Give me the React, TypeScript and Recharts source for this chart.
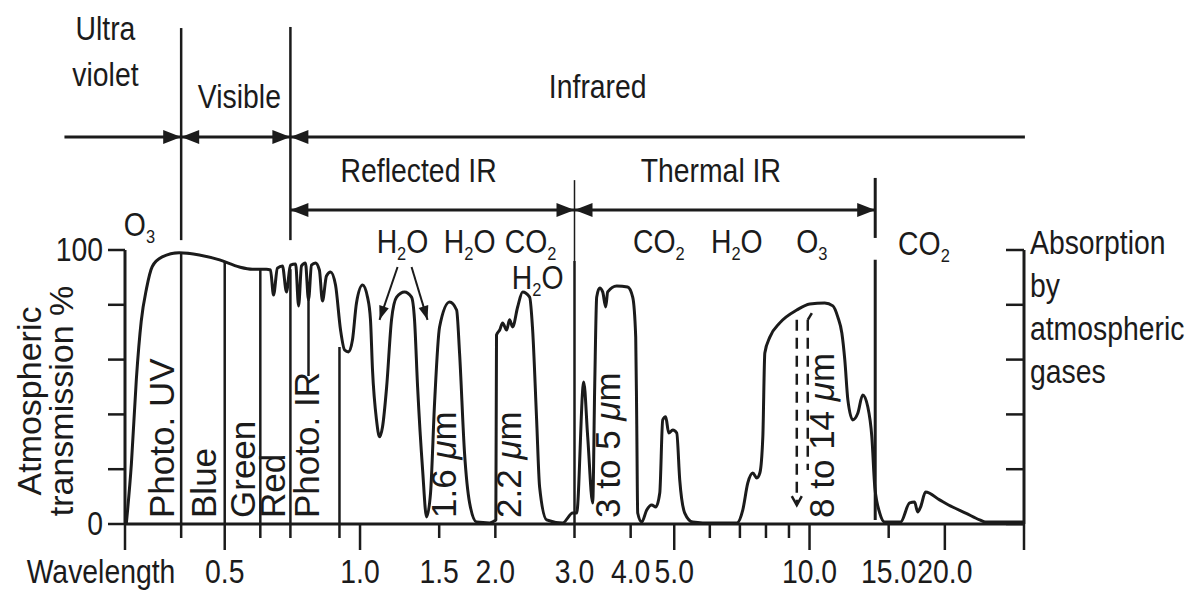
import React from 'react';
import { LineChart, Line, XAxis, YAxis, ReferenceLine, ReferenceDot } from 'recharts';

const INK = '#1b1b1b';
const FONT = "'Liberation Sans', Arial, sans-serif";
const FS = 33;
const NARROW = 0.86; // horizontal labels use a condensed face
const FS_VERT = 35; // vertical labels are set wider

// atmospheric transmission curve (wavelength in µm, transmission in %)
const wavelength = [
  0.302, 0.31, 0.318, 0.326, 0.335, 0.345, 0.363, 0.396, 0.439, 0.487, 0.539, 0.576, 0.619,
  0.632, 0.642, 0.655, 0.672, 0.686, 0.7, 0.719, 0.73, 0.741, 0.756, 0.768, 0.78, 0.796, 0.812,
  0.825, 0.842, 0.86, 0.882, 0.905, 0.924, 0.943, 0.962, 0.982, 1.013, 1.039, 1.055, 1.066,
  1.088, 1.105, 1.122, 1.146, 1.175, 1.206, 1.256, 1.302, 1.322, 1.343, 1.378, 1.406, 1.435,
  1.465, 1.503, 1.582, 1.64, 1.665, 1.708, 1.753, 1.817, 1.942, 1.985, 2.005, 2.012, 2.045,
  2.076, 2.119, 2.151, 2.185, 2.242, 2.3, 2.384, 2.421, 2.471, 2.509, 2.601, 2.824, 2.972,
  3.033, 3.145, 3.21, 3.293, 3.327, 3.361, 3.413, 3.466, 3.52, 3.556, 3.724, 3.939, 4.042,
  4.105, 4.126, 4.147, 4.233, 4.343, 4.457, 4.549, 4.643, 4.714, 4.786, 4.862, 4.963, 5.065,
  5.143, 5.277, 5.498, 5.786, 6.889, 7.103, 7.289, 7.478, 7.633, 7.752, 7.872, 7.953, 8.16,
  8.587, 9.368, 10.01, 10.81, 11.27, 11.56, 11.8, 11.98, 12.17, 12.48, 12.81, 13.13, 13.48,
  13.76, 13.97, 14.33, 14.71, 15.94, 16.7, 17.13, 17.4, 17.66, 18.12, 19.47, 20.81, 22.25,
  23.9, 24.65, 30,
];
const transmission = [
  0, 22, 53, 74, 86, 94, 97.5, 99, 98.2, 96.4, 93.8, 93, 93,
  92.7, 83.6, 93.4, 94.2, 84.7, 94.5, 94.9, 79.6, 94.2, 95.3, 81.8, 94.5, 95.3, 92.7,
  81.4, 90.5, 92, 87.2, 70.8, 63.5, 62.8, 67.2, 80.7, 87.2, 82.8, 74.5, 56.2,
  38, 31.8, 35.4, 50, 74.5, 82.8, 84.7, 82.8, 74.5, 50, 19.7, 2.6, 11.3,
  44.2, 71.9, 81, 78.1, 62.4, 25.9, 7.7, 0.7, 0.4, 1, 1.5, 69, 70.8,
  73.4, 70.8, 74.5, 71.9, 79.2, 84.7, 82.8, 70.8, 38, 13.5, 1.5, 0.4, 4,
  4, 51.8, 31.8, 7.7, 50, 82.8, 86.1, 84.7, 79.2, 84.7, 86.9, 86.5, 82.8,
  68.2, 38, 4, 0.7, 5.1, 6.9, 6.2, 11.3, 38, 39.1, 33.2, 34.3, 33.2,
  16.1, 4, 0.7, 0.4, 0.4, 5.1, 15, 18.6, 16.8, 18.6, 31.8, 62.4, 68.2,
  73.4, 78.1, 80.3, 80.7, 79.6, 75.5, 69.7, 59.9, 45.3, 38, 40.5, 47.1, 42.7,
  31.8, 13.5, 4, 0.7, 0.7, 7.7, 8, 4.4, 6.2, 11.7, 8.8, 6.2, 4,
  1.5, 0.7, 0.7,
];

// axes
const xTicks = [0.3, 0.4, 0.5, 0.6, 0.7, 0.9, 1, 1.5, 2, 3, 4, 5, 6, 7, 8, 9, 10, 15, 20, 30];
const xLabelled = [0.5, 1, 1.5, 2, 3, 4, 5, 10, 15, 20];
const xMajor = [0.3, 0.5, 1, 5, 10, 20, 30];
const yTicks = [0, 20, 40, 60, 80, 100];

// spectral regions above the plot
const regionNames = ['Ultra', 'violet', 'Visible', 'Infrared', 'Reflected IR', 'Thermal IR'];
const regionAt = [0.2714, 0.2714, 0.539, 3.379, 1.35, 6.03];
const regionLevel = [176.6, 159.9, 151.8, 155.5, 124.8, 124.8];

// windows / bands written vertically inside the plot
const bandNames = ['Photo. UV', 'Blue', 'Green', 'Red', 'Photo. IR', '1.6 μm', '2.2 μm', '3 to 5 μm', '8 to 14 μm'];
const bandAt = [0.3865, 0.4793, 0.5853, 0.6824, 0.8084, 1.632, 2.277, 3.781, 11.32];

// absorbing gases
const gasNames = ['O3', 'H2O', 'H2O', 'CO2', 'H2O', 'CO2', 'H2O', 'O3', 'CO2'];
const gasAt = [0.323, 1.243, 1.753, 2.396, 2.485, 4.62, 6.89, 10.12, 17.97];
const gasLevel = [105.1, 98.9, 98.9, 98.9, 85.6, 98.9, 98.9, 98.9, 98.2];

const absorptionNote = ['Absorption', 'by', 'atmospheric', 'gases'];

const data = wavelength.map((w, i) => ({ w, t: transmission[i] }));

function CText({ x, y, anchor = 'middle', vertical = false, size = FS, squeeze = NARROW, children }: any) {
  const rot = vertical ? ' rotate(-90)' : '';
  return (
    <g transform={`translate(${x} ${y})${rot} scale(${squeeze} 1)`}>
      <text x={0} y={0} textAnchor={anchor} fontFamily={FONT} fontSize={size} fill={INK}>
        {children}
      </text>
    </g>
  );
}

const formula = (s: string) => {
  const out: React.ReactNode[] = [];
  let low = false;
  s.split('').forEach((ch, i) => {
    const digit = /\d/.test(ch);
    if (digit && !low) {
      out.push(<tspan key={i} fontSize={FS * 0.58} dy={7}>{ch}</tspan>);
      low = true;
    } else if (!digit && low) {
      out.push(<tspan key={i} dy={-7}>{ch}</tspan>);
      low = false;
    } else {
      out.push(<tspan key={i}>{ch}</tspan>);
    }
  });
  return out;
};

const withMu = (s: string) => {
  const k = s.indexOf('μ');
  if (k < 0) return s;
  return [
    <tspan key="a">{s.slice(0, k)}</tspan>,
    <tspan key="b" fontStyle="italic">μ</tspan>,
    <tspan key="c">{s.slice(k + 1)}</tspan>,
  ];
};

const head = (tx: number, ty: number, ang: number, len: number, half: number) => {
  const bx = tx - len * Math.cos(ang);
  const by = ty - len * Math.sin(ang);
  const nx = -Math.sin(ang) * half;
  const ny = Math.cos(ang) * half;
  return `${tx},${ty} ${bx + nx},${by + ny} ${bx - nx},${by - ny}`;
};

const arrow = (ends: 'start' | 'end' | 'both', width = 3, len = 18, half = 7) => (p: any) => {
  const { x1, y1, x2, y2 } = p;
  const ang = Math.atan2(y2 - y1, x2 - x1);
  return (
    <g>
      <line x1={x1} y1={y1} x2={x2} y2={y2} stroke={INK} strokeWidth={width} />
      {ends !== 'start' && <polygon points={head(x2, y2, ang, len, half)} fill={INK} />}
      {ends !== 'end' && <polygon points={head(x1, y1, ang + Math.PI, len, half)} fill={INK} />}
    </g>
  );
};

const dashedArrow = (p: any) => {
  const { x1, y1, x2, y2 } = p;
  return (
    <g stroke={INK} strokeWidth={2.5} fill="none">
      <line x1={x1} y1={y1} x2={x2} y2={y2} strokeDasharray="11 7" />
      <polyline points={`${x2 - 5},${y2 - 9} ${x2},${y2} ${x2 + 5},${y2 - 9}`} />
    </g>
  );
};

function WaveTick(p: any) {
  const { x, y, payload } = p;
  const v = payload.value;
  const len = xMajor.includes(v) ? 26 : 14;
  return (
    <g>
      <line x1={x} y1={y} x2={x} y2={y + len} stroke={INK} strokeWidth={2.5} />
      {xLabelled.includes(v) && <CText x={x} y={y + 59}>{v.toFixed(1)}</CText>}
    </g>
  );
}

function PercentTick(p: any) {
  const v = p.payload.value;
  if (v !== 0 && v !== 100) return null;
  return <CText x={p.x} y={p.y + 11} anchor="end">{String(v)}</CText>;
}

const seg = (x1: number, y1: number, x2: number, y2: number, key: string, width = 2.5) => (
  <ReferenceLine
    key={key}
    segment={[{ x: x1, y: y1 }, { x: x2, y: y2 }]}
    stroke={INK}
    strokeWidth={width}
    ifOverflow="visible"
  />
);

export default function App() {
  return (
    <div style={{ position: 'absolute', left: 0, top: 0, background: '#fff' }}>
      <LineChart width={1204} height={593} data={data} margin={{ top: 0, right: 180, bottom: 0, left: 0 }}>
        <XAxis
          dataKey="w"
          type="number"
          scale="log"
          domain={[0.3, 30]}
          allowDataOverflow
          ticks={xTicks}
          interval={0}
          tick={<WaveTick />}
          tickLine={false}
          tickSize={0}
          tickMargin={0}
          axisLine={{ stroke: INK, strokeWidth: 3 }}
          height={69}
          label={(p: any) => (
            <CText x={p.viewBox.x - 24} y={p.viewBox.y + 59}>Wavelength</CText>
          )}
        />
        <YAxis
          type="number"
          domain={[0, 191.24]}
          allowDataOverflow
          ticks={yTicks}
          interval={0}
          width={125}
          axisLine={false}
          tickLine={{ stroke: INK, strokeWidth: 2.5 }}
          tickSize={17}
          tickMargin={5}
          tick={<PercentTick />}
          label={(p: any) => {
            const cy = p.viewBox.y + p.viewBox.height - 123;
            return (
              <g>
                <CText x={41} y={cy} vertical size={34} squeeze={1}>Atmospheric</CText>
                <CText x={73} y={cy} vertical size={34} squeeze={1}>transmission %</CText>
              </g>
            );
          }}
        />
        <YAxis
          yAxisId="r"
          orientation="right"
          mirror
          type="number"
          domain={[0, 191.24]}
          allowDataOverflow
          ticks={yTicks}
          interval={0}
          width={1}
          axisLine={false}
          tickLine={{ stroke: INK, strokeWidth: 2.5 }}
          tickSize={18}
          tickFormatter={() => ''}
        />

        {/* axis frames limited to 0-100 % */}
        {seg(0.3, 0, 0.3, 100, 'ax-l', 3)}
        {seg(30, 0, 30, 100, 'ax-r', 3)}

        {/* region boundaries */}
        {seg(0.4, 181, 0.4, 103.6, 'b1-top')}
        {seg(0.7, 181.4, 0.7, 103.6, 'b2-top')}
        {seg(3, 125.5, 3, 96, 'b3-top', 1.5)}
        {seg(14, 126.3, 14, 104.4, 'b4-top', 3)}
        {seg(0.4, 98.5, 0.4, 0, 'v1')}
        {seg(0.5, 96, 0.5, 0, 'v2')}
        {seg(0.6, 93, 0.6, 0, 'v3')}
        {seg(0.7, 93, 0.7, 0, 'v4')}
        {seg(0.9, 64.6, 0.9, 0, 'v5')}
        {seg(3, 96, 3, 0, 'v6')}
        {seg(14, 96.4, 14, 1.5, 'v7', 3)}
        {seg(0.768, 54, 0.768, 81.8, 'pir')}

        {/* region arrows */}
        <ReferenceLine segment={[{ x: 0.22, y: 141.2 }, { x: 0.4, y: 141.2 }]} shape={arrow('end')} ifOverflow="visible" />
        <ReferenceLine segment={[{ x: 0.4, y: 141.2 }, { x: 0.7, y: 141.2 }]} shape={arrow('both')} ifOverflow="visible" />
        <ReferenceLine segment={[{ x: 0.7, y: 141.2 }, { x: 30.14, y: 141.2 }]} shape={arrow('start')} ifOverflow="visible" />
        <ReferenceLine segment={[{ x: 0.7, y: 114.6 }, { x: 3, y: 114.6 }]} shape={arrow('both')} ifOverflow="visible" />
        <ReferenceLine segment={[{ x: 3, y: 114.6 }, { x: 14, y: 114.6 }]} shape={arrow('both')} ifOverflow="visible" />

        {/* H2O pointers and 8-14 µm dashed guides */}
        <ReferenceLine segment={[{ x: 1.212, y: 93.8 }, { x: 1.105, y: 74.5 }]} shape={arrow('end', 2, 14, 5)} ifOverflow="visible" />
        <ReferenceLine segment={[{ x: 1.302, y: 93.8 }, { x: 1.413, y: 74.5 }]} shape={arrow('end', 2, 14, 5)} ifOverflow="visible" />
        <ReferenceLine segment={[{ x: 9.368, y: 74.5 }, { x: 9.368, y: 6.9 }]} shape={dashedArrow} ifOverflow="visible" />
        <ReferenceLine segment={[{ x: 9.91, y: 74.5 }, { x: 9.91, y: 19.7 }]} stroke={INK} strokeWidth={2.5} strokeDasharray="11 7" ifOverflow="visible" />
        <ReferenceLine segment={[{ x: 9.91, y: 74.5 }, { x: 10.12, y: 77 }]} stroke={INK} strokeWidth={2.5} ifOverflow="visible" />

        <Line
          dataKey="t"
          type="monotone"
          stroke={INK}
          strokeWidth={3}
          dot={false}
          activeDot={false}
          isAnimationActive={false}
        />

        {regionNames.map((name, i) => (
          <ReferenceDot
            key={`r${i}`}
            x={regionAt[i]}
            y={regionLevel[i]}
            r={0}
            ifOverflow="visible"
            shape={(p: any) => <CText x={p.cx} y={p.cy}>{name}</CText>}
          />
        ))}
        {bandNames.map((name, i) => (
          <ReferenceDot
            key={`b${i}`}
            x={bandAt[i]}
            y={2.2}
            r={0}
            ifOverflow="visible"
            shape={(p: any) => (
              <CText x={p.cx} y={p.cy} anchor="start" vertical size={FS_VERT} squeeze={1}>{withMu(name)}</CText>
            )}
          />
        ))}
        {gasNames.map((name, i) => (
          <ReferenceDot
            key={`g${i}`}
            x={gasAt[i]}
            y={gasLevel[i]}
            r={0}
            ifOverflow="visible"
            shape={(p: any) => <CText x={p.cx} y={p.cy}>{formula(name)}</CText>}
          />
        ))}
        {absorptionNote.map((line, i) => (
          <ReferenceDot
            key={`a${i}`}
            x={30.93}
            y={98.5 - i * 15.7}
            r={0}
            ifOverflow="visible"
            shape={(p: any) => <CText x={p.cx} y={p.cy} anchor="start">{line}</CText>}
          />
        ))}
      </LineChart>
    </div>
  );
}
